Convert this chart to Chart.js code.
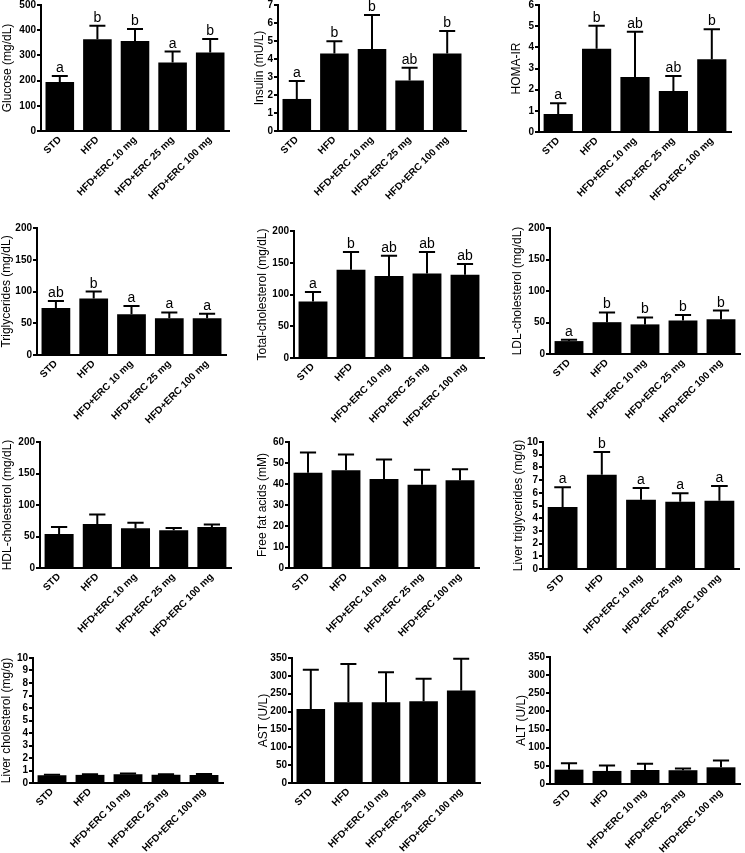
<!DOCTYPE html>
<html>
<head>
<meta charset="utf-8">
<script src="https://cdn.jsdelivr.net/npm/chart.js@4.4.0/dist/chart.umd.min.js"></script>
<style>
body { margin: 0; background: #fff; width: 745px; height: 853px; position: relative; overflow: hidden; }
canvas { position: absolute; }
</style>
</head>
<body>
<script>
var groups = ["STD", "HFD", "HFD+ERC 10 mg", "HFD+ERC 25 mg", "HFD+ERC 100 mg"];

// mean and SD
var glucoseMean = [194, 364, 357, 272, 312];
var glucoseSd = [24, 54, 48, 43, 53];
var glucoseLetters = ["a", "b", "b", "a", "b"];

var insulinMean = [1.78, 4.31, 4.56, 2.81, 4.31];
var insulinSd = [1.0, 0.67, 1.88, 0.71, 1.25];
var insulinLetters = ["a", "b", "b", "ab", "b"];

var homaMean = [0.85, 3.93, 2.6, 1.94, 3.44];
var homaSd = [0.51, 1.09, 2.14, 0.71, 1.41];
var homaLetters = ["a", "b", "ab", "ab", "b"];

var tgMean = [74, 89, 64, 58, 58];
var tgSd = [11, 11, 13, 9, 7];
var tgLetters = ["ab", "b", "a", "a", "a"];

var tcMean = [89, 139, 129, 133, 131];
var tcSd = [15, 28, 32, 34, 17];
var tcLetters = ["a", "b", "ab", "ab", "ab"];

var ldlMean = [20.5, 50.5, 47, 53, 55];
var ldlSd = [2.1, 15.5, 11, 9, 14];
var ldlLetters = ["a", "b", "b", "b", "b"];

var hdlMean = [54, 70, 63, 60, 65];
var hdlSd = [11, 15, 9, 3.5, 4];

var ffaMean = [45.4, 46.5, 42.4, 39.7, 41.8];
var ffaSd = [9.6, 7.5, 9.3, 7.1, 5.2];

var liverTgMean = [4.88, 7.43, 5.46, 5.3, 5.38];
var liverTgSd = [1.55, 1.78, 0.92, 0.66, 1.16];
var liverTgLetters = ["a", "b", "a", "a", "a"];

var liverCholMean = [0.62, 0.65, 0.7, 0.66, 0.64];
var liverCholSd = [0.04, 0.05, 0.06, 0.05, 0.08];

var astMean = [207, 226, 226, 229, 259];
var astSd = [110, 107, 84, 63, 89];

var altMean = [39.5, 36, 38.6, 38, 46];
var altSd = [17.5, 15, 17.4, 5, 19];

var FONT = '"Liberation Sans", Arial, sans-serif';

var panels = [
    { title: "Glucose (mg/dL)", mean: glucoseMean, sd: glucoseSd, letters: glucoseLetters, max: 500, step: 100,
      titleX: 7, axisX: 41, top: 5, bottom: 131, right: 229 },
    { title: "Insulin (mU/L)", mean: insulinMean, sd: insulinSd, letters: insulinLetters, max: 7, step: 1,
      titleX: 259, axisX: 278, top: 5, bottom: 131, right: 466 },
    { title: "HOMA-IR", mean: homaMean, sd: homaSd, letters: homaLetters, max: 6, step: 1,
      titleX: 516, axisX: 539, top: 5, bottom: 132, right: 731 },
    { title: "Triglycerides (mg/dL)", mean: tgMean, sd: tgSd, letters: tgLetters, max: 200, step: 50,
      titleX: 6, axisX: 37, top: 228, bottom: 355, right: 226 },
    { title: "Total-cholesterol (mg/dL)", mean: tcMean, sd: tcSd, letters: tcLetters, max: 200, step: 50,
      titleX: 262, axisX: 294, top: 231, bottom: 358, right: 484 },
    { title: "LDL-cholesterol (mg/dL)", mean: ldlMean, sd: ldlSd, letters: ldlLetters, max: 200, step: 50,
      titleX: 517, axisX: 550, top: 228, bottom: 354, right: 740 },
    { title: "HDL-cholesterol (mg/dL)", mean: hdlMean, sd: hdlSd, letters: null, max: 200, step: 50,
      titleX: 7, axisX: 40, top: 442, bottom: 568, right: 231 },
    { title: "Free fat acids (mM)", mean: ffaMean, sd: ffaSd, letters: null, max: 60, step: 10,
      titleX: 262, axisX: 289, top: 442, bottom: 568, right: 479 },
    { title: "Liver triglycerides (mg/g)", mean: liverTgMean, sd: liverTgSd, letters: liverTgLetters, max: 10, step: 1,
      titleX: 518, axisX: 543, top: 442, bottom: 569, right: 739 },
    { title: "Liver cholesterol (mg/g)", mean: liverCholMean, sd: liverCholSd, letters: null, max: 10, step: 1,
      titleX: 6, axisX: 33, top: 658, bottom: 783, right: 223 },
    { title: "AST (U/L)", mean: astMean, sd: astSd, letters: null, max: 350, step: 50,
      titleX: 263, axisX: 292, top: 658, bottom: 783, right: 480 },
    { title: "ALT (U/L)", mean: altMean, sd: altSd, letters: null, max: 350, step: 50,
      titleX: 521, axisX: 550, top: 657, bottom: 784, right: 740 }
];

function drawErrors(chart, p) {
    var meta = chart.getDatasetMeta(0);
    var y = chart.scales.y;
    var ctx = chart.ctx;
    ctx.save();
    ctx.strokeStyle = "#000";
    ctx.fillStyle = "#000";
    ctx.lineWidth = 2;
    meta.data.forEach(function (bar, i) {
        var top = y.getPixelForValue(p.mean[i] + p.sd[i]);
        var base = y.getPixelForValue(p.mean[i]);
        var half = bar.width * 0.28;
        ctx.beginPath();
        ctx.moveTo(bar.x, base);
        ctx.lineTo(bar.x, top);
        ctx.moveTo(bar.x - half, top);
        ctx.lineTo(bar.x + half, top);
        ctx.stroke();
        if (p.letters) {
            ctx.font = "14px " + FONT;
            ctx.textAlign = "center";
            ctx.textBaseline = "alphabetic";
            ctx.fillText(p.letters[i], bar.x, top - 4);
        }
    });
    ctx.restore();
}

function makePanel(p) {
    var padTop = 8, xH = 80, padRight = 4;
    var left = p.titleX - 7;
    var cv = document.createElement("canvas");
    cv.width = p.right - left + padRight;
    cv.height = p.bottom - p.top + padTop + xH;
    cv.style.left = left + "px";
    cv.style.top = (p.top - padTop) + "px";
    document.body.appendChild(cv);

    new Chart(cv, {
        type: "bar",
        data: {
            labels: groups,
            datasets: [{
                data: p.mean,
                backgroundColor: "#000",
                borderWidth: 0,
                barPercentage: 0.76,
                categoryPercentage: 1
            }]
        },
        options: {
            responsive: false,
            animation: false,
            layout: { padding: { top: padTop, right: padRight, left: 0, bottom: 0 } },
            plugins: { legend: { display: false }, tooltip: { enabled: false } },
            scales: {
                x: {
                    grid: { display: false, drawTicks: false, tickLength: 0 },
                    border: { color: "#000", width: 2 },
                    ticks: {
                        color: "#000",
                        font: { family: FONT, size: 10, weight: "bold" },
                        minRotation: 45,
                        maxRotation: 45,
                        autoSkip: false,
                        padding: 3
                    },
                    afterFit: function (s) { s.height = xH; }
                },
                y: {
                    min: 0,
                    max: p.max,
                    border: { color: "#000", width: 2 },
                    grid: { drawOnChartArea: false, color: "#000", lineWidth: 2, tickLength: 4 },
                    ticks: {
                        stepSize: p.step,
                        autoSkip: false,
                        color: "#000",
                        font: { family: FONT, size: 10, weight: "bold" },
                        padding: 1
                    },
                    title: {
                        display: true,
                        text: p.title,
                        color: "#000",
                        font: { family: FONT, size: 12 },
                        padding: { top: 0, bottom: 0 }
                    },
                    afterFit: function (s) { s.width = p.axisX - left; }
                }
            }
        },
        plugins: [{
            id: "errbars",
            afterDatasetsDraw: function (chart) { drawErrors(chart, p); }
        }]
    });
}

panels.forEach(makePanel);
</script>
</body>
</html>
